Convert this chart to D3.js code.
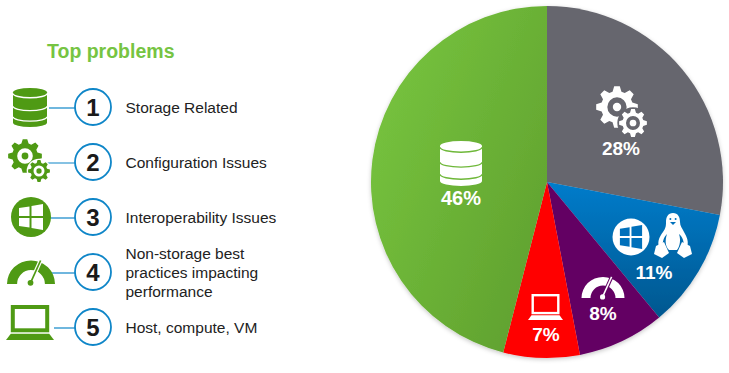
<!DOCTYPE html>
<html>
<head>
<meta charset="utf-8">
<script src="https://cdn.jsdelivr.net/npm/d3@7"></script>
<style>
    html, body { margin: 0; padding: 0; background: #fff; }
    text { font-family: "Liberation Sans", Arial, sans-serif; }
</style>
</head>
<body>
<div id="box-div"></div>
<script>
// data, clockwise from 12 o'clock
const slices = ['config', 'interop', 'perf', 'host', 'storage']
const shares = [28, 11, 8, 7, 46]
const problemNumbers = [1, 2, 3, 4, 5]
const problemLabels = [
    ['Storage Related'],
    ['Configuration Issues'],
    ['Interoperability Issues'],
    ['Non-storage best', 'practices impacting', 'performance'],
    ['Host, compute, VM']
]

const dms = { width: 729, height: 373 }
const pieDms = { cx: 547, cy: 182, r: 176 }
const legendGreen = '#4f9a14'
const blue = '#0f86c8'

const box = d3.select('#box-div').append('svg')
    .attr('width', dms.width)
    .attr('height', dms.height)
    .style('display', 'block')

const defs = box.append('defs')

const addGradient = (id, x1, y1, x2, y2, from, to) => {
    const g = defs.append('linearGradient')
        .attr('id', id)
        .attr('x1', x1).attr('y1', y1).attr('x2', x2).attr('y2', y2)
    g.append('stop').attr('offset', '0%').attr('stop-color', from)
    g.append('stop').attr('offset', '100%').attr('stop-color', to)
}
addGradient('green-grad', '0%', '10%', '100%', '90%', '#78c63f', '#5f9f2e')
addGradient('blue-grad', '0%', '0%', '0%', '100%', '#007ccb', '#00578f')

defs.append('filter')
    .attr('id', 'soft')
    .attr('x', '-5%').attr('y', '-5%').attr('width', '110%').attr('height', '110%')
    .append('feDropShadow')
    .attr('dx', 0).attr('dy', 1.5).attr('stdDeviation', 2)
    .attr('flood-color', '#000').attr('flood-opacity', 0.22)

// icons
const gearPath = (cx, cy, rOut, rIn, hole, teeth) => {
    const step = Math.PI * 2 / teeth
    let p = ''
    for (let i = 0; i < teeth; i++) {
        const a = i * step
        const pts = [
            [a - step * 0.36, rIn], [a - step * 0.17, rOut],
            [a + step * 0.17, rOut], [a + step * 0.36, rIn]
        ]
        pts.forEach((q, j) => {
            const x = cx + q[1] * Math.sin(q[0])
            const y = cy - q[1] * Math.cos(q[0])
            p += (i === 0 && j === 0 ? 'M' : 'L') + x.toFixed(2) + ',' + y.toFixed(2)
        })
    }
    p += 'Z'
    p += `M${cx - hole},${cy}A${hole},${hole} 0 1 0 ${cx + hole},${cy}A${hole},${hole} 0 1 0 ${cx - hole},${cy}Z`
    return p
}

const drawGears = (g, big, small, color, bg) => {
    g.append('path')
        .attr('d', gearPath(big.x, big.y, big.r, big.r * 0.76, big.r * 0.46, 8))
        .attr('fill', color).attr('fill-rule', 'evenodd')
    g.append('circle').attr('cx', big.x).attr('cy', big.y).attr('r', big.r * 0.2).attr('fill', color)
    g.append('circle').attr('cx', small.x).attr('cy', small.y).attr('r', small.r * 1.12).attr('fill', bg)
    g.append('path')
        .attr('d', gearPath(small.x, small.y, small.r, small.r * 0.76, small.r * 0.5, 8))
        .attr('fill', color).attr('fill-rule', 'evenodd')
    g.append('circle').attr('cx', small.x).attr('cy', small.y).attr('r', small.r * 0.24).attr('fill', color)
}

const drawDb = (g, x, y, w, h, color, line) => {
    const ry = h * 0.11
    const rx = w / 2
    g.append('path')
        .attr('d', `M${x},${y + ry}A${rx},${ry} 0 0 1 ${x + w},${y + ry}L${x + w},${y + h - ry}A${rx},${ry} 0 0 1 ${x},${y + h - ry}Z`)
        .attr('fill', color)
    const levels = [y + ry + h * 0.03, y + h * 0.47, y + h * 0.74]
    levels.forEach(l => {
        g.append('path')
            .attr('d', `M${x},${l}A${rx},${ry} 0 0 0 ${x + w},${l}`)
            .attr('fill', 'none').attr('stroke', line).attr('stroke-width', 1.4)
    })
}

const drawWindows = (g, cx, cy, r, color, bg) => {
    g.append('circle').attr('cx', cx).attr('cy', cy).attr('r', r).attr('fill', color)
    const s = r / 20
    const panes = [
        [-12, -9, -1.5, -10.6, -1.5, -1, -12, -1],
        [0.5, -11, 12, -13, 12, -1, 0.5, -1],
        [-12, 1, -1.5, 1, -1.5, 10.6, -12, 9],
        [0.5, 1, 12, 1, 12, 13, 0.5, 11]
    ]
    panes.forEach(q => {
        const pts = d3.range(0, 8, 2).map(i => `${cx + q[i] * s},${cy + q[i + 1] * s}`)
        g.append('polygon').attr('points', pts.join(' ')).attr('fill', bg)
    })
}

const drawGauge = (g, cx, cy, rOut, color, bg) => {
    const rIn = rOut * 0.58
    g.append('path')
        .attr('d', `M${cx - rOut},${cy}A${rOut},${rOut * 0.98} 0 0 1 ${cx + rOut},${cy}L${cx + rIn},${cy}A${rIn},${rIn} 0 0 0 ${cx - rIn},${cy}Z`)
        .attr('fill', color)
    const pivot = [cx - rOut * 0.02, cy - rOut * 0.05]
    const tip = [cx + rOut * 0.4, cy - rOut * 0.98]
    g.append('line')
        .attr('x1', pivot[0]).attr('y1', pivot[1]).attr('x2', tip[0]).attr('y2', tip[1])
        .attr('stroke', bg).attr('stroke-width', rOut * 0.17)
    g.append('line')
        .attr('x1', pivot[0]).attr('y1', pivot[1]).attr('x2', tip[0]).attr('y2', tip[1])
        .attr('stroke', color).attr('stroke-width', rOut * 0.07)
    g.append('circle').attr('cx', pivot[0]).attr('cy', pivot[1]).attr('r', rOut * 0.12).attr('fill', color)
}

const drawLaptop = (g, x, y, w, h, color, sw) => {
    const inset = w * 0.1
    const screenH = h * 0.78
    g.append('rect')
        .attr('x', x + inset + sw / 2).attr('y', y + sw / 2)
        .attr('width', w - inset * 2 - sw).attr('height', screenH - sw)
        .attr('fill', 'none').attr('stroke', color).attr('stroke-width', sw)
    g.append('path')
        .attr('d', `M${x + inset},${y + screenH + h * 0.04}L${x + w - inset},${y + screenH + h * 0.04}L${x + w},${y + h}L${x},${y + h}Z`)
        .attr('fill', color)
}

const drawTux = (g, cx, top, color, bg) => {
    const t = g.append('g').attr('transform', `translate(${cx},${top})`)
    t.append('path')
        .attr('d', 'M0,0C5,0 7,4 7,9C7,13 9,15 11,19C14,24 16,29 14,34L10,34C12,29 9,23 6,21C8,27 7,33 4,37L-4,37C-8,33 -8,27 -6,21C-9,24 -11,29 -10,34L-14,34C-16,28 -13,23 -10,19C-7,15 -7,12 -7,9C-7,4 -5,0 0,0Z')
        .attr('fill', color)
    t.append('path').attr('d', 'M-17,33L-9,29L-4,40L-11,45L-19,41Z').attr('fill', color)
    t.append('path').attr('d', 'M17,33L9,29L4,40L11,45L19,41Z').attr('fill', color)
    t.append('circle').attr('cx', -2.6).attr('cy', 6).attr('r', 1).attr('fill', bg)
    t.append('circle').attr('cx', 2.6).attr('cy', 6).attr('r', 1).attr('fill', bg)
    t.append('path').attr('d', 'M-3,9L3,9L0,12Z').attr('fill', bg)
}

// legend
const title = box.append('text')
    .attr('x', 47).attr('y', 58)
    .attr('font-size', 19.5).attr('font-weight', 'bold')
    .attr('fill', '#76c442')
    .text('Top problems')

const rowScale = d3.scalePoint()
    .domain(problemNumbers)
    .range([107, 327])

const lineStart = [49, 40, 50, 46, 54]

const legend = box.append('g').attr('id', 'legend')

const rows = legend.selectAll('g.row')
    .data(problemNumbers)
    .join('g')
    .attr('class', 'row')
    .attr('transform', d => `translate(0, ${rowScale(d)})`)

rows.append('line')
    .attr('x1', (d, i) => lineStart[i]).attr('x2', 75)
    .attr('y1', 1).attr('y2', 1)
    .attr('stroke', blue).attr('stroke-width', 1.2)

rows.append('circle')
    .attr('cx', 93).attr('cy', 0).attr('r', 18)
    .attr('fill', '#fff').attr('stroke', blue).attr('stroke-width', 1.8)

rows.append('text')
    .attr('x', 93).attr('y', 9)
    .attr('text-anchor', 'middle')
    .attr('font-size', 24).attr('font-weight', 'bold')
    .attr('fill', '#1a1a1a')
    .text(d => d)

rows.append('text')
    .attr('font-size', 15.5)
    .attr('fill', '#222')
    .selectAll('tspan')
    .data((d, i) => problemLabels[i])
    .join('tspan')
    .attr('x', 125.5)
    .attr('y', (d, i, n) => 6 + (i - (n.length - 1) / 2) * 19)
    .text(d => d)

drawDb(legend.append('g'), 13, 88, 34, 39, legendGreen, '#fff')
drawGears(legend.append('g'), { x: 25, y: 156, r: 17 }, { x: 39, y: 171, r: 11 }, legendGreen, '#fff')
drawWindows(legend.append('g'), 31, 217, 20, legendGreen, '#fff')
drawGauge(legend.append('g'), 31, 284, 24, legendGreen, '#fff')
drawLaptop(legend.append('g'), 6, 305, 48, 35, legendGreen, 4)

// pie
const colorScale = d3.scaleOrdinal()
    .domain(slices)
    .range(['#66666e', 'url(#blue-grad)', '#640064', '#ff0000', 'url(#green-grad)'])

const pie = d3.pie().sort(null)
const arc = d3.arc().innerRadius(0).outerRadius(pieDms.r)
const arcs = pie(shares)

const pieArea = box.append('g')
    .attr('id', 'pie')
    .attr('transform', `translate(${pieDms.cx}, ${pieDms.cy})`)
    .attr('filter', 'url(#soft)')

pieArea.selectAll('path')
    .data(arcs)
    .join('path')
    .attr('d', arc)
    .attr('fill', (d, i) => colorScale(slices[i]))

const labelX = [621, 654, 603, 546, 461]
const labelY = [155, 279, 320, 341, 205]
const labelSize = [19, 19, 19, 19, 20]

box.append('g').attr('id', 'pie-labels')
    .selectAll('text')
    .data(shares)
    .join('text')
    .attr('x', (d, i) => labelX[i])
    .attr('y', (d, i) => labelY[i])
    .attr('text-anchor', 'middle')
    .attr('font-size', (d, i) => labelSize[i])
    .attr('font-weight', 'bold')
    .attr('fill', '#fff')
    .text(d => d + '%')

const pieIcons = box.append('g').attr('id', 'pie-icons')
drawDb(pieIcons.append('g'), 440, 141, 42, 45, '#fff', '#6fb83a')
drawGears(pieIcons.append('g'), { x: 617, y: 107, r: 21 }, { x: 633, y: 123, r: 14 }, '#fff', '#66666e')
drawWindows(pieIcons.append('g'), 631, 237, 18.5, '#fff', '#0070bb')
drawTux(pieIcons, 673, 213, '#fff', '#0070bb')
drawGauge(pieIcons.append('g'), 603, 298, 21.5, '#fff', '#640064')
drawLaptop(pieIcons.append('g'), 528, 294, 35, 26, '#fff', 2.4)
</script>
</body>
</html>
